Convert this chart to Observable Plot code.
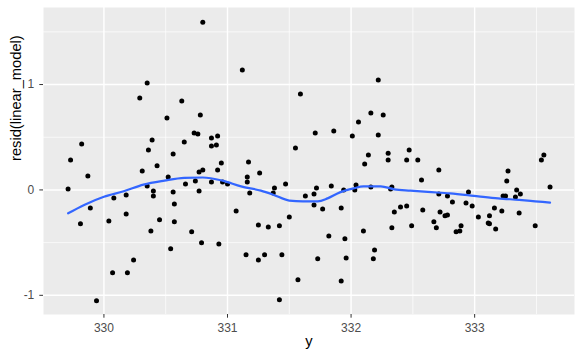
<!DOCTYPE html>
<html>
<head>
<meta charset="utf-8">
<script src="https://cdn.jsdelivr.net/npm/d3@7"></script>
<script src="https://cdn.jsdelivr.net/npm/@observablehq/plot@0.6"></script>
<style>
  html, body { margin: 0; padding: 0; background: #ffffff; }
  svg { display: block; }
</style>
</head>
<body>
<div id="chart"></div>
<script>
// Scatter points: x = y (fitted variable), y = resid(linear_model)
const pointX = [330.35,330.29,330.51,330.39,329.82,330.36,330.56,329.73,330.43,330.80,331.12,330.63,331.59,330.78,330.73,330.76,330.92,330.87,330.65,330.91,330.87,331.55,330.95,331.17,332.22,332.16,332.26,332.06,331.71,331.86,332.01,332.22,332.47,332.14,332.30,332.30,332.45,332.54,332.11,333.54,333.56,
330.31,329.87,330.52,329.71,330.35,330.40,330.40,330.18,330.08,330.56,330.57,329.89,330.18,330.45,330.04,330.57,329.81,330.38,330.54,330.24,330.07,330.19,329.94,
330.80,330.77,330.92,331.26,331.16,330.74,330.87,330.96,331.16,330.66,331.00,331.47,331.38,330.77,331.18,331.37,331.63,331.70,331.70,331.07,331.50,331.25,331.33,331.42,330.71,330.79,330.93,331.15,331.30,331.44,331.25,331.57,331.42,
332.71,332.57,331.72,331.84,331.94,332.04,332.03,332.16,332.33,332.32,332.71,332.78,331.77,331.92,332.40,332.45,332.35,332.58,332.72,332.76,332.78,332.67,332.69,332.49,332.33,332.10,331.82,331.95,332.19,331.73,331.96,332.18,331.92,
333.27,333.26,333.61,333.34,333.37,333.33,333.23,333.25,332.95,332.82,332.93,332.98,333.16,333.22,333.36,333.03,333.12,333.11,333.12,333.17,332.89,332.88,332.85,333.49];
const pointY = [1.014,0.872,0.682,0.474,0.436,0.379,0.341,0.284,0.230,1.592,1.137,0.844,0.910,0.711,0.540,0.531,0.512,0.493,0.455,0.427,0.417,0.398,0.256,0.265,1.043,0.730,0.711,0.645,0.540,0.559,0.512,0.521,0.379,0.332,0.347,0.284,0.284,0.284,0.246,0.284,0.332,
0.180,0.133,0.123,0.009,0.038,-0.009,-0.057,-0.047,-0.076,-0.019,-0.133,-0.171,-0.228,-0.284,-0.294,-0.303,-0.322,-0.389,-0.559,-0.664,-0.787,-0.787,-1.052,
0.190,0.171,0.190,0.161,0.123,0.085,0.076,0.076,0.076,0.057,0.057,0.057,0.019,-0.009,-0.028,-0.028,-0.057,-0.038,-0.142,-0.199,-0.256,-0.332,-0.351,-0.341,-0.398,-0.502,-0.512,-0.616,-0.616,-0.616,-0.664,-0.853,-1.043,
0.190,0.095,0.019,0.038,0,0.047,0,0.028,0.028,0.009,-0.038,-0.057,-0.180,-0.171,-0.161,-0.152,-0.209,-0.190,-0.209,-0.246,-0.237,-0.303,-0.360,-0.341,-0.360,-0.389,-0.436,-0.464,-0.569,-0.654,-0.645,-0.654,-0.863,
0.180,0.085,0.028,0,-0.038,-0.066,-0.057,-0.057,-0.019,-0.114,-0.123,-0.152,-0.171,-0.199,-0.218,-0.256,-0.246,-0.313,-0.322,-0.370,-0.341,-0.389,-0.398,-0.341];

// Loess smooth
const smoothX = [329.71,329.84,330.00,330.16,330.32,330.49,330.65,330.80,330.96,331.11,331.27,331.37,331.50,331.61,331.73,331.81,331.91,332.02,332.10,332.24,332.35,332.48,332.62,332.80,333.03,333.19,333.36,333.49,333.61];
const smoothY = [-0.222,-0.142,-0.064,-0.013,0.050,0.088,0.114,0.118,0.088,0.034,-0.007,-0.045,-0.101,-0.108,-0.108,-0.080,-0.023,0.015,0.034,0.034,0.006,-0.007,-0.019,-0.032,-0.061,-0.080,-0.095,-0.108,-0.120];

// Axes
const xMajor = [330, 331, 332, 333];
const xMinor = [329.5, 330.5, 331.5, 332.5, 333.5];
const yMajor = [-1, 0, 1];
const yMinor = [-0.5, 0.5, 1.5];
const xTitle = "y";
const yTitle = "resid(linear_model)";

const points = pointX.map((x, i) => ({x, y: pointY[i]}));
const smooth = smoothX.map((x, i) => ({x, y: smoothY[i]}));

const chart = Plot.plot({
  width: 582,
  height: 359,
  marginLeft: 43,
  marginRight: 8,
  marginTop: 7,
  marginBottom: 45,
  style: {background: "#ffffff", fontFamily: "'Liberation Sans', Arial, sans-serif", overflow: "visible"},
  x: {domain: [329.511, 333.808]},
  y: {domain: [-1.182, 1.731]},
  marks: [
    Plot.frame({fill: "#EBEBEB", stroke: null}),
    Plot.ruleX(xMinor, {stroke: "#ffffff", strokeWidth: 0.7}),
    Plot.ruleY(yMinor, {stroke: "#ffffff", strokeWidth: 0.7}),
    Plot.ruleX(xMajor, {stroke: "#ffffff", strokeWidth: 1.4}),
    Plot.ruleY(yMajor, {stroke: "#ffffff", strokeWidth: 1.4}),
    Plot.dot(points, {x: "x", y: "y", r: 2.5, fill: "#000000", stroke: null}),
    Plot.line(smooth, {x: "x", y: "y", stroke: "#3366FF", strokeWidth: 2.2, curve: "monotone-x"}),
    Plot.axisX(xMajor, {tickSize: 3.7, tickPadding: 5, fontSize: 12, stroke: "#333333", fill: "#4D4D4D", label: null, tickFormat: d => String(d)}),
    Plot.axisY(yMajor, {tickSize: 3.7, tickPadding: 5.5, fontSize: 12, stroke: "#333333", fill: "#4D4D4D", label: null, tickFormat: d => d < 0 ? "-" + Math.abs(d) : String(d)}),
    Plot.text([xTitle], {text: d => d, frameAnchor: "bottom", dy: 31, fontSize: 14.7, fill: "#000000"}),
    Plot.text([yTitle], {text: d => d, frameAnchor: "left", rotate: -90, dx: -27, fontSize: 14.7, fill: "#000000"})
  ]
});
document.getElementById("chart").appendChild(chart);
</script>
</body>
</html>
